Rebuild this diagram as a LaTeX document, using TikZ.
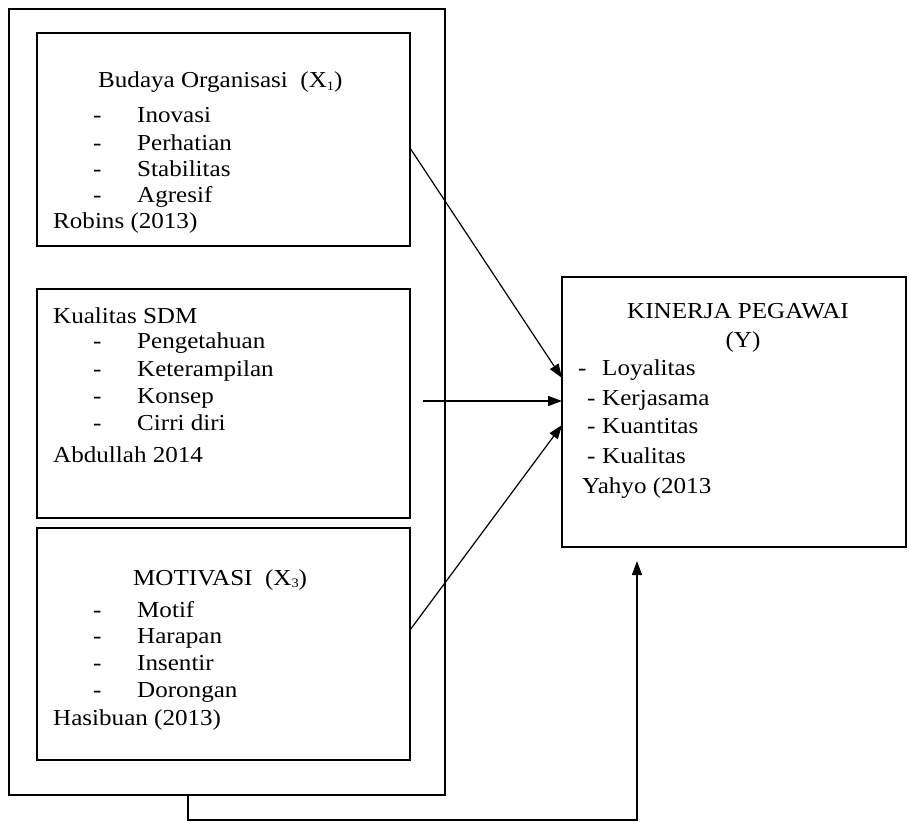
\documentclass[tikz,border=0pt]{standalone}
\usepackage{fontspec}
\setmainfont[FakeStretch=1.1]{Liberation Serif}
\usetikzlibrary{arrows.meta}
\newcommand{\lowidx}[1]{\raisebox{-2.5pt}{\fontsize{13}{13}\selectfont #1}}
\begin{document}
\begin{tikzpicture}[x=1pt,y=-1pt,
  box/.style={draw=black,line width=1.2pt},
  txt/.style={anchor=base west,inner sep=0pt,font=\fontsize{22.8}{26}\selectfont},
  ctxt/.style={anchor=base,inner sep=0pt,font=\fontsize{22.8}{26}\selectfont},
  link/.style={draw=black,line width=1.2pt},
  arr/.style={link,-{Triangle[length=14pt,width=10pt]}}]
\useasboundingbox (0,0) rectangle (909,821);
% boxes
\draw[box] (9,9) rectangle (445,795);
\coordinate (outerbot) at (188,795);
\draw[box] (37,33) rectangle (410,246);
\draw[box] (37,289) rectangle (410,518);
\draw[box] (37,528) rectangle (410,760);
\draw[box] (562,277) rectangle (906,547);
% box 1 text
\node[txt] (b1t) at (98,88) {Budaya Organisasi\ \ (X\lowidx{1})};
\node[txt] (b1d1) at (93,123) {-};
\node[txt] (b1i1) at (137,123) {Inovasi};
\node[txt] (b1d2) at (93,150) {-};
\node[txt] (b1i2) at (137,150) {Perhatian};
\node[txt] (b1d3) at (93,176) {-};
\node[txt] (b1i3) at (137,176) {Stabilitas};
\node[txt] (b1d4) at (93,202) {-};
\node[txt] (b1i4) at (137,202) {Agresif};
\node[txt] (b1s) at (53,228) {Robins (2013)};
% box 2 text
\node[txt] (b2t) at (53,323) {Kualitas SDM};
\node[txt] (b2d1) at (93,348) {-};
\node[txt] (b2i1) at (137,348) {Pengetahuan};
\node[txt] (b2d2) at (93,376) {-};
\node[txt] (b2i2) at (137,376) {Keterampilan};
\node[txt] (b2d3) at (93,403) {-};
\node[txt] (b2i3) at (137,403) {Konsep};
\node[txt] (b2d4) at (93,430) {-};
\node[txt] (b2i4) at (137,430) {Cirri diri};
\node[txt] (b2s) at (53,462) {Abdullah 2014};
% box 3 text
\node[txt] (b3t) at (133,585) {MOTIVASI\ \ (X\lowidx{3})};
\node[txt] (b3d1) at (93,617) {-};
\node[txt] (b3i1) at (137,617) {Motif};
\node[txt] (b3d2) at (93,643) {-};
\node[txt] (b3i2) at (137,643) {Harapan};
\node[txt] (b3d3) at (93,670) {-};
\node[txt] (b3i3) at (137,670) {Insentir};
\node[txt] (b3d4) at (93,697) {-};
\node[txt] (b3i4) at (137,697) {Dorongan};
\node[txt] (b3s) at (53,725) {Hasibuan (2013)};
% Y box text
\node[txt] (yt) at (627,318) {KINERJA PEGAWAI};
\node[ctxt] (yy) at (743,347) {(Y)};
\node[txt] (yd1) at (578,375) {-};
\node[txt] (yi1) at (602,375) {Loyalitas};
\node[txt] (yd2) at (587,405) {-};
\node[txt] (yi2) at (602,405) {Kerjasama};
\node[txt] (yd3) at (587,433) {-};
\node[txt] (yi3) at (602,433) {Kuantitas};
\node[txt] (yd4) at (587,463) {-};
\node[txt] (yi4) at (602,463) {Kualitas};
\node[txt] (ys) at (582,493) {Yahyo (2013};
% connector end points
\coordinate (s1) at (410,148);
\coordinate (s2) at (423,401);
\coordinate (s3) at (410,630);
\coordinate (e1) at (562,378);
\coordinate (e2) at (562,401);
\coordinate (e3) at (562,425);
\coordinate (fb) at (637,561);
\draw[arr] (s1) -- (e1);
\draw[arr] (s2) -- (e2);
\draw[arr] (s3) -- (e3);
\draw[arr] (outerbot) -- (188,820) -- (637,820) -- (fb);
\end{tikzpicture}
\end{document}
